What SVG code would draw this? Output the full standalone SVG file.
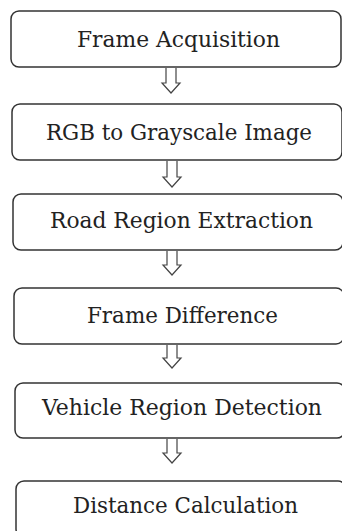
<svg xmlns="http://www.w3.org/2000/svg" width="342" height="531" viewBox="0 0 342 531">
<style>
.box{fill:#fff;stroke:#333;stroke-width:1.5}
.lbl{font-family:"DejaVu Serif","Liberation Serif",serif;font-size:21.5px;fill:#222;text-anchor:middle}
.arr{fill:none;stroke:#444;stroke-width:1.2;stroke-linejoin:miter}
</style>
<rect width="342" height="531" fill="#fff"/>
<g id="connectors">
<path class="arr" d="M166,68 V83 H162 L171,93 L180,83 H176 V68"/>
<path class="arr" d="M167,161 V177 H163 L172,187 L181,177 H177 V161"/>
<path class="arr" d="M167,251 V265 H163 L172,275 L181,265 H177 V251"/>
<path class="arr" d="M167,345 V358 H163 L172,368 L181,358 H177 V345"/>
<path class="arr" d="M167,439 V453 H163 L172,463 L181,453 H177 V439"/>
</g>
<g id="n1"><rect class="box" x="11" y="11" width="330" height="56" rx="8"/><text class="lbl" x="178.5" y="47" textLength="203" lengthAdjust="spacingAndGlyphs">Frame Acquisition</text></g>
<g id="n2"><rect class="box" x="12" y="104" width="330" height="56" rx="8"/><text class="lbl" x="179" y="140" textLength="266" lengthAdjust="spacingAndGlyphs">RGB to Grayscale Image</text></g>
<g id="n3"><rect class="box" x="13" y="194" width="330" height="56" rx="8"/><text class="lbl" x="181.5" y="228" textLength="263" lengthAdjust="spacingAndGlyphs">Road Region Extraction</text></g>
<g id="n4"><rect class="box" x="14" y="288" width="330" height="56" rx="8"/><text class="lbl" x="182.5" y="323" textLength="191" lengthAdjust="spacingAndGlyphs">Frame Difference</text></g>
<g id="n5"><rect class="box" x="15" y="383" width="330" height="55" rx="8"/><text class="lbl" x="182" y="415" textLength="280" lengthAdjust="spacingAndGlyphs">Vehicle Region Detection</text></g>
<g id="n6"><rect class="box" x="16" y="481" width="330" height="56" rx="8"/><text class="lbl" x="185.5" y="513" textLength="225" lengthAdjust="spacingAndGlyphs">Distance Calculation</text></g>
</svg>
